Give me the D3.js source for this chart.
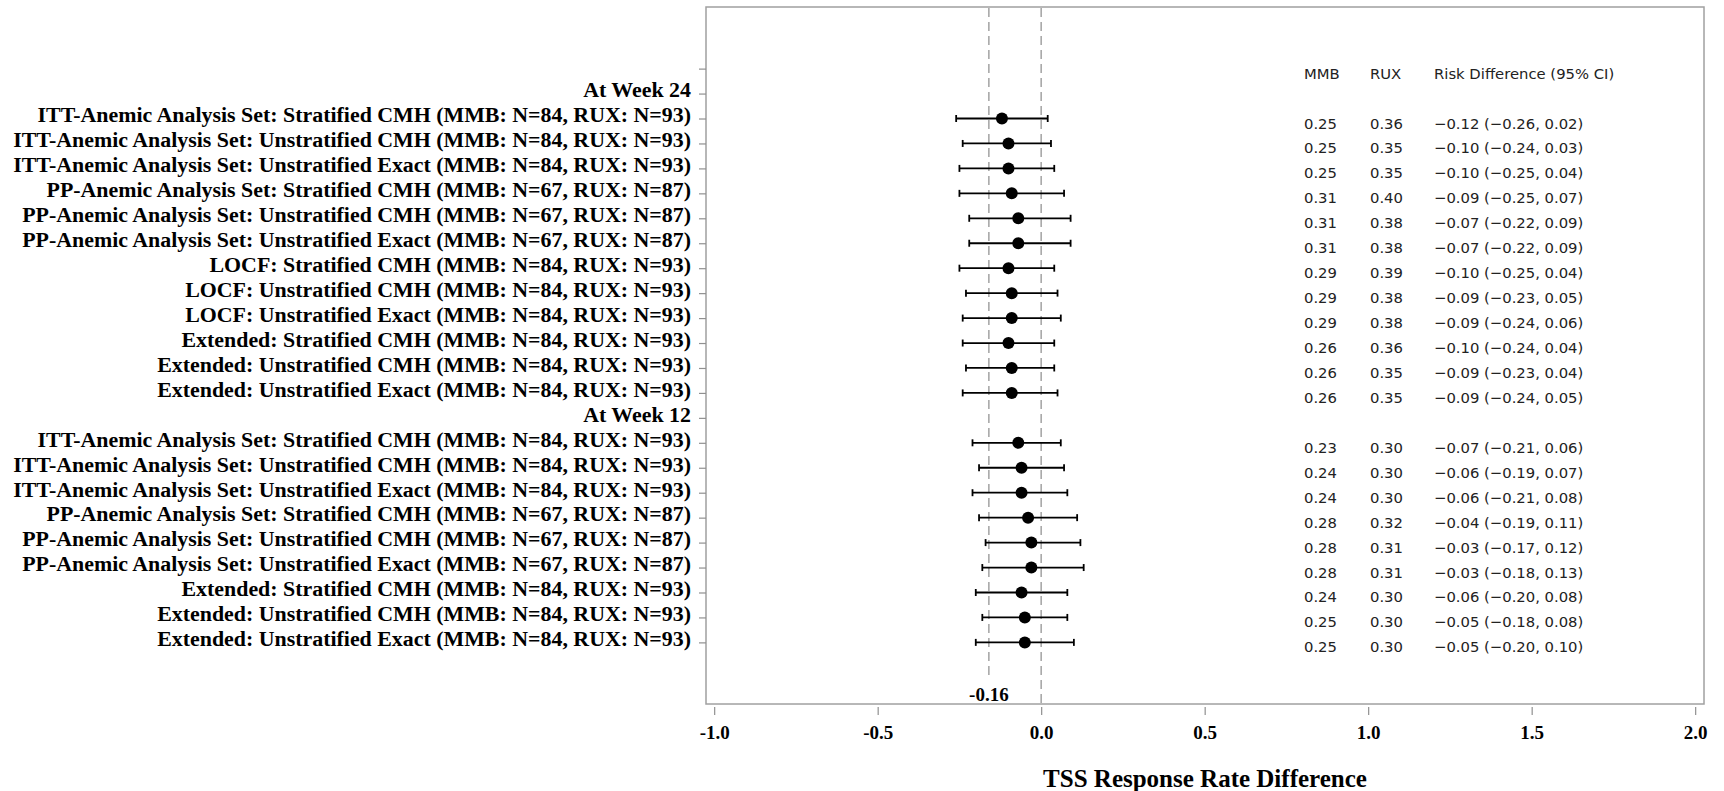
<!DOCTYPE html>
<html>
<head>
<meta charset="utf-8">
<script src="https://cdn.jsdelivr.net/npm/d3@7"></script>
<style>
  body { margin: 0; background: #fff; }
  .lbl { font-family: "Liberation Serif", "Times New Roman", serif; font-weight: bold; fill: #000; }
  .tbl { font-family: "DejaVu Sans", sans-serif; font-size: 14.8px; fill: #222; }
</style>
</head>
<body>
<script>
// Row labels (first one is the blank row that holds the table header)
const rowLabels = [
    "",
    "At Week 24",
    "ITT-Anemic Analysis Set: Stratified CMH (MMB: N=84, RUX: N=93)",
    "ITT-Anemic Analysis Set: Unstratified CMH (MMB: N=84, RUX: N=93)",
    "ITT-Anemic Analysis Set: Unstratified Exact (MMB: N=84, RUX: N=93)",
    "PP-Anemic Analysis Set: Stratified CMH (MMB: N=67, RUX: N=87)",
    "PP-Anemic Analysis Set: Unstratified CMH (MMB: N=67, RUX: N=87)",
    "PP-Anemic Analysis Set: Unstratified Exact (MMB: N=67, RUX: N=87)",
    "LOCF: Stratified CMH (MMB: N=84, RUX: N=93)",
    "LOCF: Unstratified CMH (MMB: N=84, RUX: N=93)",
    "LOCF: Unstratified Exact (MMB: N=84, RUX: N=93)",
    "Extended: Stratified CMH (MMB: N=84, RUX: N=93)",
    "Extended: Unstratified CMH (MMB: N=84, RUX: N=93)",
    "Extended: Unstratified Exact (MMB: N=84, RUX: N=93)",
    "At Week 12",
    "ITT-Anemic Analysis Set: Stratified CMH (MMB: N=84, RUX: N=93)",
    "ITT-Anemic Analysis Set: Unstratified CMH (MMB: N=84, RUX: N=93)",
    "ITT-Anemic Analysis Set: Unstratified Exact (MMB: N=84, RUX: N=93)",
    "PP-Anemic Analysis Set: Stratified CMH (MMB: N=67, RUX: N=87)",
    "PP-Anemic Analysis Set: Unstratified CMH (MMB: N=67, RUX: N=87)",
    "PP-Anemic Analysis Set: Unstratified Exact (MMB: N=67, RUX: N=87)",
    "Extended: Stratified CMH (MMB: N=84, RUX: N=93)",
    "Extended: Unstratified CMH (MMB: N=84, RUX: N=93)",
    "Extended: Unstratified Exact (MMB: N=84, RUX: N=93)"
];

const mmbRate  = [null, null, 0.25, 0.25, 0.25, 0.31, 0.31, 0.31, 0.29, 0.29, 0.29, 0.26, 0.26, 0.26,
                  null, 0.23, 0.24, 0.24, 0.28, 0.28, 0.28, 0.24, 0.25, 0.25];
const ruxRate  = [null, null, 0.36, 0.35, 0.35, 0.40, 0.38, 0.38, 0.39, 0.38, 0.38, 0.36, 0.35, 0.35,
                  null, 0.30, 0.30, 0.30, 0.32, 0.31, 0.31, 0.30, 0.30, 0.30];
const riskDiff = [null, null, -0.12, -0.10, -0.10, -0.09, -0.07, -0.07, -0.10, -0.09, -0.09, -0.10, -0.09, -0.09,
                  null, -0.07, -0.06, -0.06, -0.04, -0.03, -0.03, -0.06, -0.05, -0.05];
const ciLower  = [null, null, -0.26, -0.24, -0.25, -0.25, -0.22, -0.22, -0.25, -0.23, -0.24, -0.24, -0.23, -0.24,
                  null, -0.21, -0.19, -0.21, -0.19, -0.17, -0.18, -0.20, -0.18, -0.20];
const ciUpper  = [null, null, 0.02, 0.03, 0.04, 0.07, 0.09, 0.09, 0.04, 0.05, 0.06, 0.04, 0.04, 0.05,
                  null, 0.06, 0.07, 0.08, 0.11, 0.12, 0.13, 0.08, 0.08, 0.10];

const xTicks = [-1.0, -0.5, 0.0, 0.5, 1.0, 1.5, 2.0];
const refLines = [-0.16, 0];
const tableHeader = ["MMB", "RUX", "Risk Difference (95% CI)"];

const svgWidth = 1724, svgHeight = 791;
const frame = { left: 706, right: 1704, top: 7, bottom: 704 };
const colX = [1304, 1370, 1434];

const svg = d3.select('body')
    .append('svg')
    .attr('width', svgWidth).attr('height', svgHeight);

// Scales
const x = d3.scaleLinear()
    .domain([-1.025, 2.027])
    .range([frame.left, frame.right]);

const y = d3.scalePoint()
    .domain(d3.range(rowLabels.length))
    .range([frame.top, frame.bottom])
    .padding(2.47);

const fmt = v => (v < 0 ? '\u2212' : '') + Math.abs(v).toFixed(2);

/* --------- FRAME --------- */
svg.append('rect')
    .attr('x', frame.left).attr('y', frame.top)
    .attr('width', frame.right - frame.left)
    .attr('height', frame.bottom - frame.top)
    .attr('fill', 'none')
    .attr('stroke', '#a0a0a0')
    .attr('stroke-width', 1.5);

/* --------- REFERENCE LINES --------- */
svg.append('g').selectAll('line')
    .data(refLines)
    .enter()
    .append('line')
    .attr('x1', d => x(d)).attr('x2', d => x(d))
    .attr('y1', frame.top + 1)
    .attr('y2', d => d === 0 ? frame.bottom : frame.bottom - 24)
    .attr('stroke', '#a8a8a8')
    .attr('stroke-width', 1.6)
    .attr('stroke-dasharray', '9,5');

svg.append('text')
    .attr('class', 'lbl')
    .attr('x', x(refLines[0]))
    .attr('y', frame.bottom - 3)
    .attr('text-anchor', 'middle')
    .style('font-size', '19px')
    .text(refLines[0].toFixed(2));

/* --------- X AXIS --------- */
const xAxis = svg.append('g')
    .attr('transform', `translate(0,${frame.bottom + 3})`)
    .call(d3.axisBottom(x).tickValues(xTicks).tickSize(8).tickFormat(d => d.toFixed(1)));
xAxis.select('.domain').remove();
xAxis.selectAll('.tick line').attr('stroke', '#909090').attr('stroke-width', 1.2);
xAxis.selectAll('.tick text')
    .attr('class', 'lbl')
    .attr('y', 32).attr('dy', 0)
    .style('font-size', '19px');

svg.append('text')
    .attr('class', 'lbl')
    .attr('x', (frame.left + frame.right) / 2)
    .attr('y', 787)
    .attr('text-anchor', 'middle')
    .style('font-size', '25px')
    .text('TSS Response Rate Difference');

/* --------- Y AXIS --------- */
const yAxis = svg.append('g')
    .attr('transform', `translate(${frame.left},0)`)
    .call(d3.axisLeft(y).tickSize(7).tickPadding(8).tickFormat(i => rowLabels[i]));
yAxis.select('.domain').remove();
yAxis.selectAll('.tick line').attr('stroke', '#909090').attr('stroke-width', 1.2);
yAxis.selectAll('.tick text')
    .attr('class', 'lbl')
    .attr('dy', '0.15em')
    .style('font-size', '21.9px');

/* --------- ESTIMATES --------- */
const rows = d3.range(rowLabels.length).filter(i => riskDiff[i] !== null);

const ci = svg.append('g').selectAll('g')
    .data(rows)
    .enter()
    .append('g')
    .attr('stroke', '#000')
    .attr('stroke-width', 1.8);

ci.append('line')
    .attr('x1', i => x(ciLower[i])).attr('x2', i => x(ciUpper[i]))
    .attr('y1', i => y(i)).attr('y2', i => y(i));
ci.append('line')
    .attr('x1', i => x(ciLower[i])).attr('x2', i => x(ciLower[i]))
    .attr('y1', i => y(i) - 3.5).attr('y2', i => y(i) + 3.5);
ci.append('line')
    .attr('x1', i => x(ciUpper[i])).attr('x2', i => x(ciUpper[i]))
    .attr('y1', i => y(i) - 3.5).attr('y2', i => y(i) + 3.5);

svg.append('g').selectAll('circle')
    .data(rows)
    .enter()
    .append('circle')
    .attr('cx', i => x(riskDiff[i]))
    .attr('cy', i => y(i))
    .attr('r', 6)
    .attr('fill', '#000');

/* --------- TABLE --------- */
const table = svg.append('g').attr('class', 'tbl');

table.selectAll('text.head')
    .data(tableHeader)
    .enter()
    .append('text')
    .attr('class', 'head')
    .attr('x', (d, k) => colX[k])
    .attr('y', y(0) + 10)
    .text(d => d);

const tr = table.selectAll('g.row')
    .data(rows)
    .enter()
    .append('g')
    .attr('class', 'row')
    .attr('transform', i => `translate(0,${y(i) + 10})`);

tr.append('text').attr('x', colX[0]).text(i => mmbRate[i].toFixed(2));
tr.append('text').attr('x', colX[1]).text(i => ruxRate[i].toFixed(2));
tr.append('text').attr('x', colX[2])
    .text(i => `${fmt(riskDiff[i])} (${fmt(ciLower[i])}, ${fmt(ciUpper[i])})`);
</script>
</body>
</html>
